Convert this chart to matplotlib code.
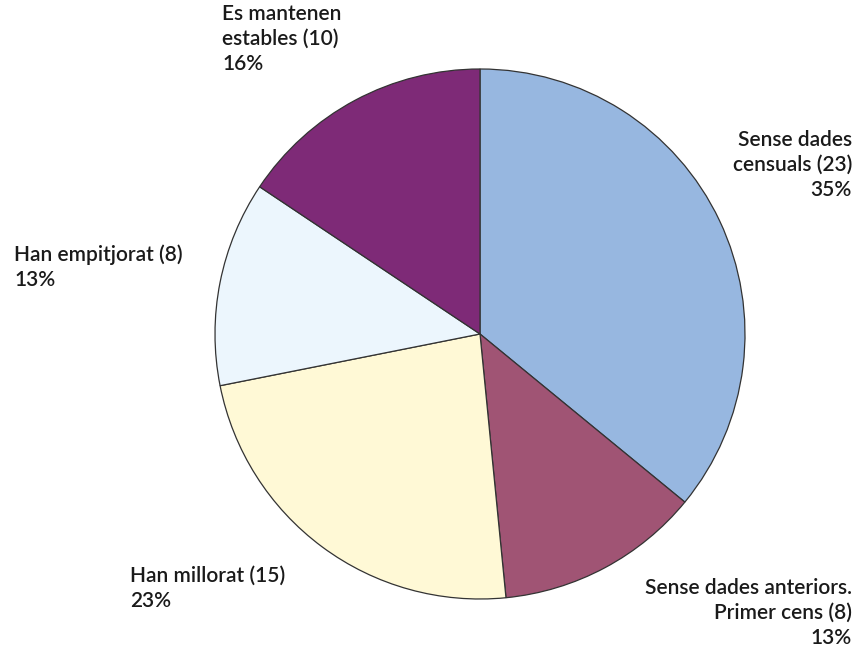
import matplotlib.pyplot as plt

labels = ['Sense dades\ncensuals (23)\n35%',
          'Sense dades anteriors.\nPrimer cens (8)\n13%',
          'Han millorat (15)\n23%',
          'Han empitjorat (8)\n13%',
          'Es mantenen\nestables (10)\n16%']
counts = [23, 8, 15, 8, 10]
colors = ['#97B7E0', '#A05474', '#FFF9D6', '#ECF6FD', '#7E2A77']

W, H = 863, 655
plt.rcParams['font.family'] = ['Lato', 'DejaVu Sans']

fig = plt.figure(figsize=(W / 100, H / 100), dpi=100)
ax = fig.add_axes([0, 0, 1, 1])

ax.pie(counts, colors=colors, startangle=90, counterclock=False,
       center=(480, H - 334), radius=265, frame=True,
       wedgeprops=dict(edgecolor='#333333', linewidth=0.9))
ax.set_xlim(0, W)
ax.set_ylim(0, H)
ax.set_aspect('equal')
ax.axis('off')

# label anchors in pixel coordinates (x, top y, alignment)
label_pos = [(852, 130, 'right'),
             (852, 578, 'right'),
             (130, 566, 'left'),
             (14, 244, 'left'),
             (222, 4, 'left')]
for text, (x, y, ha) in zip(labels, label_pos):
    ax.text(x, H - y, text, ha=ha, va='top', multialignment=ha,
            fontsize=15, fontweight='semibold', color='#1a1a1a',
            linespacing=1.32)

fig.savefig('out.png', dpi=100)
